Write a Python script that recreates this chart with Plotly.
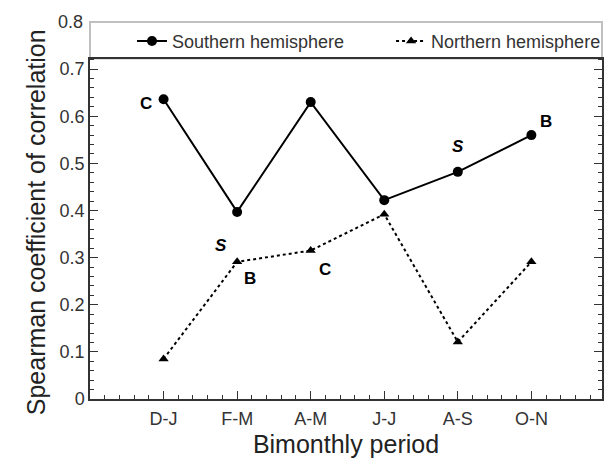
import plotly.graph_objects as go

periods = ["D-J", "F-M", "A-M", "J-J", "A-S", "O-N"]
xpos = [1, 2, 3, 4, 5, 6]
southern = [0.636, 0.397, 0.630, 0.422, 0.482, 0.560]
northern = [0.085, 0.291, 0.315, 0.392, 0.121, 0.291]

# labels: (x, y, text, italic)
labels = [
    (0.765, 0.627, "C", False),
    (1.776, 0.325, "S", True),
    (2.181, 0.255, "B", False),
    (3.196, 0.274, "C", False),
    (5.004, 0.535, "S", True),
    (6.204, 0.588, "B", False),
]

Y_TOP = 0.8        # top of frame (legend band above data area)
BAND_BOTTOM = 0.7225

FONT = "Liberation Sans, Arial, sans-serif"
AX = "#333333"

fig = go.Figure()
fig.add_trace(go.Scatter(
    x=xpos, y=southern, mode="lines+markers", name="Southern hemisphere",
    line=dict(color="black", width=2),
    marker=dict(symbol="circle", size=10, color="black"),
    legend="legend",
))
fig.add_trace(go.Scatter(
    x=xpos, y=northern, mode="lines+markers", name="Northern hemisphere",
    line=dict(color="black", width=2, dash="dot"),
    marker=dict(symbol="triangle-up", size=9, color="black"),
    legend="legend2",
))

for x, y, t, it in labels:
    txt = f"<b><i>{t}</i></b>" if it else f"<b>{t}</b>"
    fig.add_annotation(x=x, y=y, text=txt, showarrow=False,
                       font=dict(family=FONT, size=17, color="black"))

dom_top = BAND_BOTTOM / Y_TOP

# legend band frame
fig.add_shape(type="rect", xref="paper", yref="paper", x0=0, x1=1, y0=dom_top, y1=1,
              fillcolor="rgba(0,0,0,0)", line=dict(color=AX, width=2))

# top tick label of the frame
fig.add_annotation(xref="paper", yref="paper", x=0, y=1, xanchor="right", yanchor="middle",
                   xshift=-5, text=f"{Y_TOP:g}", showarrow=False,
                   font=dict(size=18, family=FONT, color="#333"))

# y-axis title
fig.add_annotation(xref="paper", yref="paper", x=-0.1066, y=0.47, xanchor="center", yanchor="middle",
                   text="Spearman coefficient of correlation", textangle=-90, showarrow=False,
                   font=dict(size=25, family=FONT, color="#222"))

legend_common = dict(orientation="h", yanchor="middle", y=0.949, xanchor="left",
                     bgcolor="rgba(0,0,0,0)", font=dict(size=18, family=FONT, color="#333"))

fig.update_layout(
    template="simple_white",
    width=608, height=458,
    margin=dict(l=90, r=2, t=22, b=59),
    paper_bgcolor="white", plot_bgcolor="white",
    font=dict(family=FONT, color="#222", size=18),
    showlegend=True,
    legend=dict(x=0.082, **legend_common),
    legend2=dict(x=0.588, **legend_common),
)
fig.update_xaxes(
    range=[0, 6.96], tickvals=xpos, ticktext=periods,
    showgrid=False, zeroline=False,
    showline=True, linecolor=AX, linewidth=1.5, mirror=True,
    ticks="inside", ticklen=8, tickcolor=AX, tickwidth=1.2,
    minor=dict(dtick=0.2, tick0=0, ticks="inside", ticklen=4, tickcolor=AX, tickwidth=1, showgrid=False),
    tickfont=dict(size=18, family=FONT, color="#333"),
    ticklabelstandoff=3,
    title=dict(text="Bimonthly period", font=dict(size=25, family=FONT, color="#222"), standoff=8),
)
fig.update_yaxes(
    domain=[0, dom_top],
    range=[0, BAND_BOTTOM], dtick=0.1, tick0=0,
    showgrid=False, zeroline=False,
    showline=True, linecolor=AX, linewidth=1.5, mirror="ticks",
    ticks="inside", ticklen=8, tickcolor=AX, tickwidth=1.2,
    minor=dict(dtick=0.02, tick0=0, ticks="inside", ticklen=4, tickcolor=AX, tickwidth=1, showgrid=False),
    tickfont=dict(size=18, family=FONT, color="#333"),
    title=dict(text=""),
)

fig.write_html("out.html")
